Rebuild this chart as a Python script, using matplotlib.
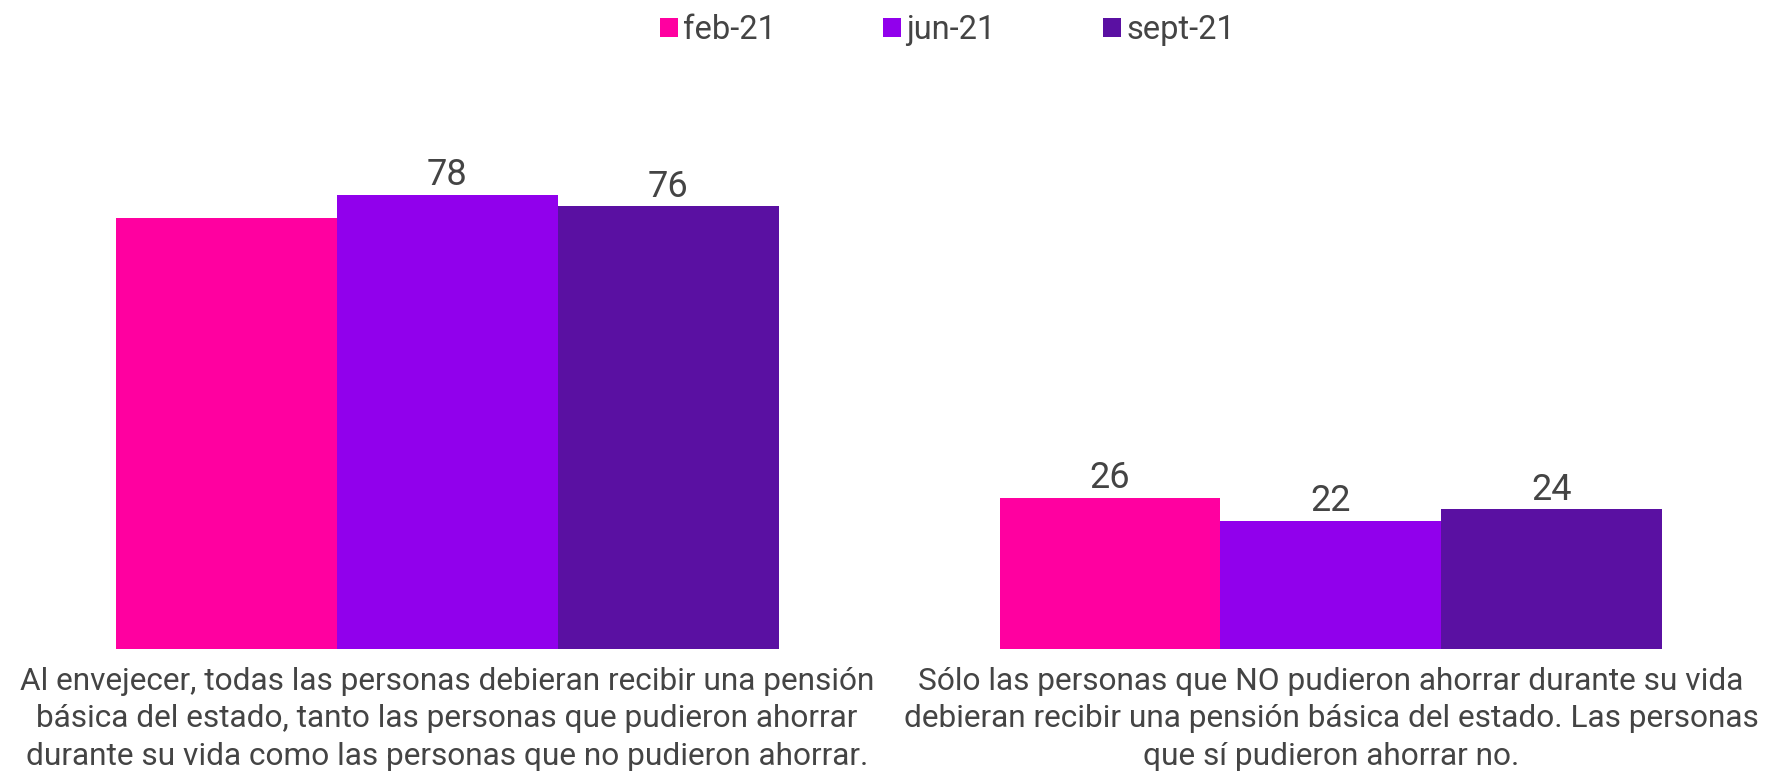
import matplotlib.pyplot as plt
import numpy as np

# ==========================================
# DATOS
# ==========================================

categorias = [
    "Al envejecer, todas las personas debieran recibir una pensión\n"
    "básica del estado, tanto las personas que pudieron ahorrar\n"
    "durante su vida como las personas que no pudieron ahorrar.",
    "Sólo las personas que NO pudieron ahorrar durante su vida\n"
    "debieran recibir una pensión básica del estado. Las personas\n"
    "que sí pudieron ahorrar no.",
]

series = ["feb-21", "jun-21", "sept-21"]

feb_21 = [74, 26]
jun_21 = [78, 22]
sept_21 = [76, 24]

# etiqueta de feb-21 en la primera categoría no aparece en el original
mostrar_feb = [False, True]
mostrar_jun = [True, True]
mostrar_sept = [True, True]

colores = ["#FF00A0", "#9100EC", "#5A10A2"]

# ==========================================
# GRÁFICO
# ==========================================

plt.rcParams["font.family"] = ["Roboto", "DejaVu Sans"]

fig = plt.figure(figsize=(17.71, 7.74), dpi=100)
ax = fig.add_axes([0, 0.1615, 1, 0.709])

x = np.arange(len(categorias))
ancho = 0.25

valores = [feb_21, jun_21, sept_21]
mostrar = [mostrar_feb, mostrar_jun, mostrar_sept]

for i, (nombre, vals, color, mos) in enumerate(zip(series, valores, colores, mostrar)):
    barras = ax.bar(x + (i - 1) * ancho, vals, ancho, color=color, label=nombre)
    etiquetas = [str(v) if m else "" for v, m in zip(vals, mos)]
    ax.bar_label(barras, labels=etiquetas, padding=1, fontsize=26, color="#444444")

ax.set_xlim(-0.506, 1.498)
ax.set_ylim(0, 94.2)

ax.set_xticks(x)
ax.set_xticklabels(categorias, fontsize=22.8, color="#444444")
for etiqueta in ax.get_xticklabels():
    etiqueta.set_linespacing(1.36)
ax.tick_params(axis="x", length=0, pad=13)
ax.set_yticks([])

for lado in ["top", "right", "left", "bottom"]:
    ax.spines[lado].set_visible(False)

fig.legend(
    loc="upper center",
    bbox_to_anchor=(0.535, 1.02),
    ncol=3,
    frameon=False,
    fontsize=23.5,
    handlelength=0.55,
    handleheight=0.55,
    handletextpad=0.15,
    columnspacing=3.3,
    labelcolor="#444444",
)

fig.savefig("out.png", dpi=100)
